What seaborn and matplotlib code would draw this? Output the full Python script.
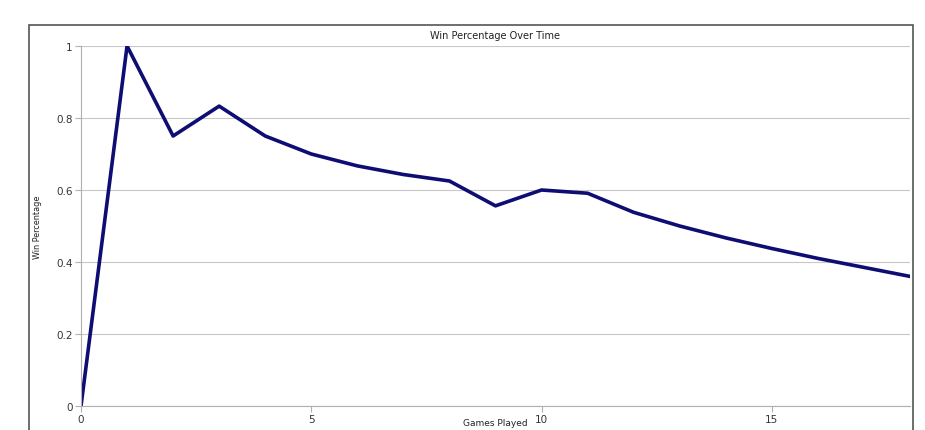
import pandas as pd
import matplotlib.pyplot as plt
import seaborn as sns
from matplotlib.patches import Rectangle
from matplotlib.ticker import FuncFormatter

# games played vs win percentage
games = [0, 1, 2, 3, 4, 5, 6, 7, 8, 9, 10, 11, 12, 13, 14, 15, 16, 17, 18]
win_pct = [0, 1.0, 0.75, 0.833, 0.75, 0.70, 0.667, 0.643, 0.625, 0.556,
           0.60, 0.591, 0.538, 0.50, 0.467, 0.4375, 0.41, 0.385, 0.36]
x_ticks = [0, 5, 10, 15]
y_ticks = [0, 0.2, 0.4, 0.6, 0.8, 1]

df = pd.DataFrame({'Games Played': games, 'Win Percentage': win_pct})

sns.set_style("white")
fig = plt.figure(figsize=(9.25, 4.31), dpi=100)
ax = fig.add_axes([81/925, 24/431, 829/925, 360/431])

# outer chart frame
fig.patches.append(Rectangle((29/925, -0.1), 884/925, 1.1 - 26/431,
                             transform=fig.transFigure, fill=False,
                             edgecolor='#555555', linewidth=1.2))

sns.lineplot(data=df, x='Games Played', y='Win Percentage', ax=ax,
             color='#0d0d73', linewidth=2.6)

ax.set_xlim(0, 18)
ax.set_ylim(0, 1)
ax.set_xticks(x_ticks)
ax.set_yticks(y_ticks)
ax.yaxis.set_major_formatter(FuncFormatter(lambda v, p: f'{v:g}'))
ax.grid(axis='y', color='#c8c8c8', linewidth=0.8)
ax.grid(axis='x', visible=False)
ax.set_axisbelow(True)
for s in ['top', 'right']:
    ax.spines[s].set_visible(False)
for s in ['left', 'bottom']:
    ax.spines[s].set_color('#b0b0b0')
    ax.spines[s].set_linewidth(0.8)
ax.tick_params(axis='both', which='major', direction='out', length=4,
               width=0.8, color='#b0b0b0', labelsize=7.5, labelcolor='#333333',
               left=True, bottom=True, pad=2)
ax.set_title('Win Percentage Over Time', fontsize=7, color='#222222', pad=6)
ax.set_ylabel('Win Percentage', fontsize=6.5, color='#222222',
              fontstretch='condensed')
ax.yaxis.set_label_coords(-0.047, 0.5)
ax.set_xlabel('Games Played', fontsize=6.5, color='#222222', va='center')
ax.xaxis.set_label_coords(0.5, -0.045)

fig.savefig('out.png', dpi=100)
